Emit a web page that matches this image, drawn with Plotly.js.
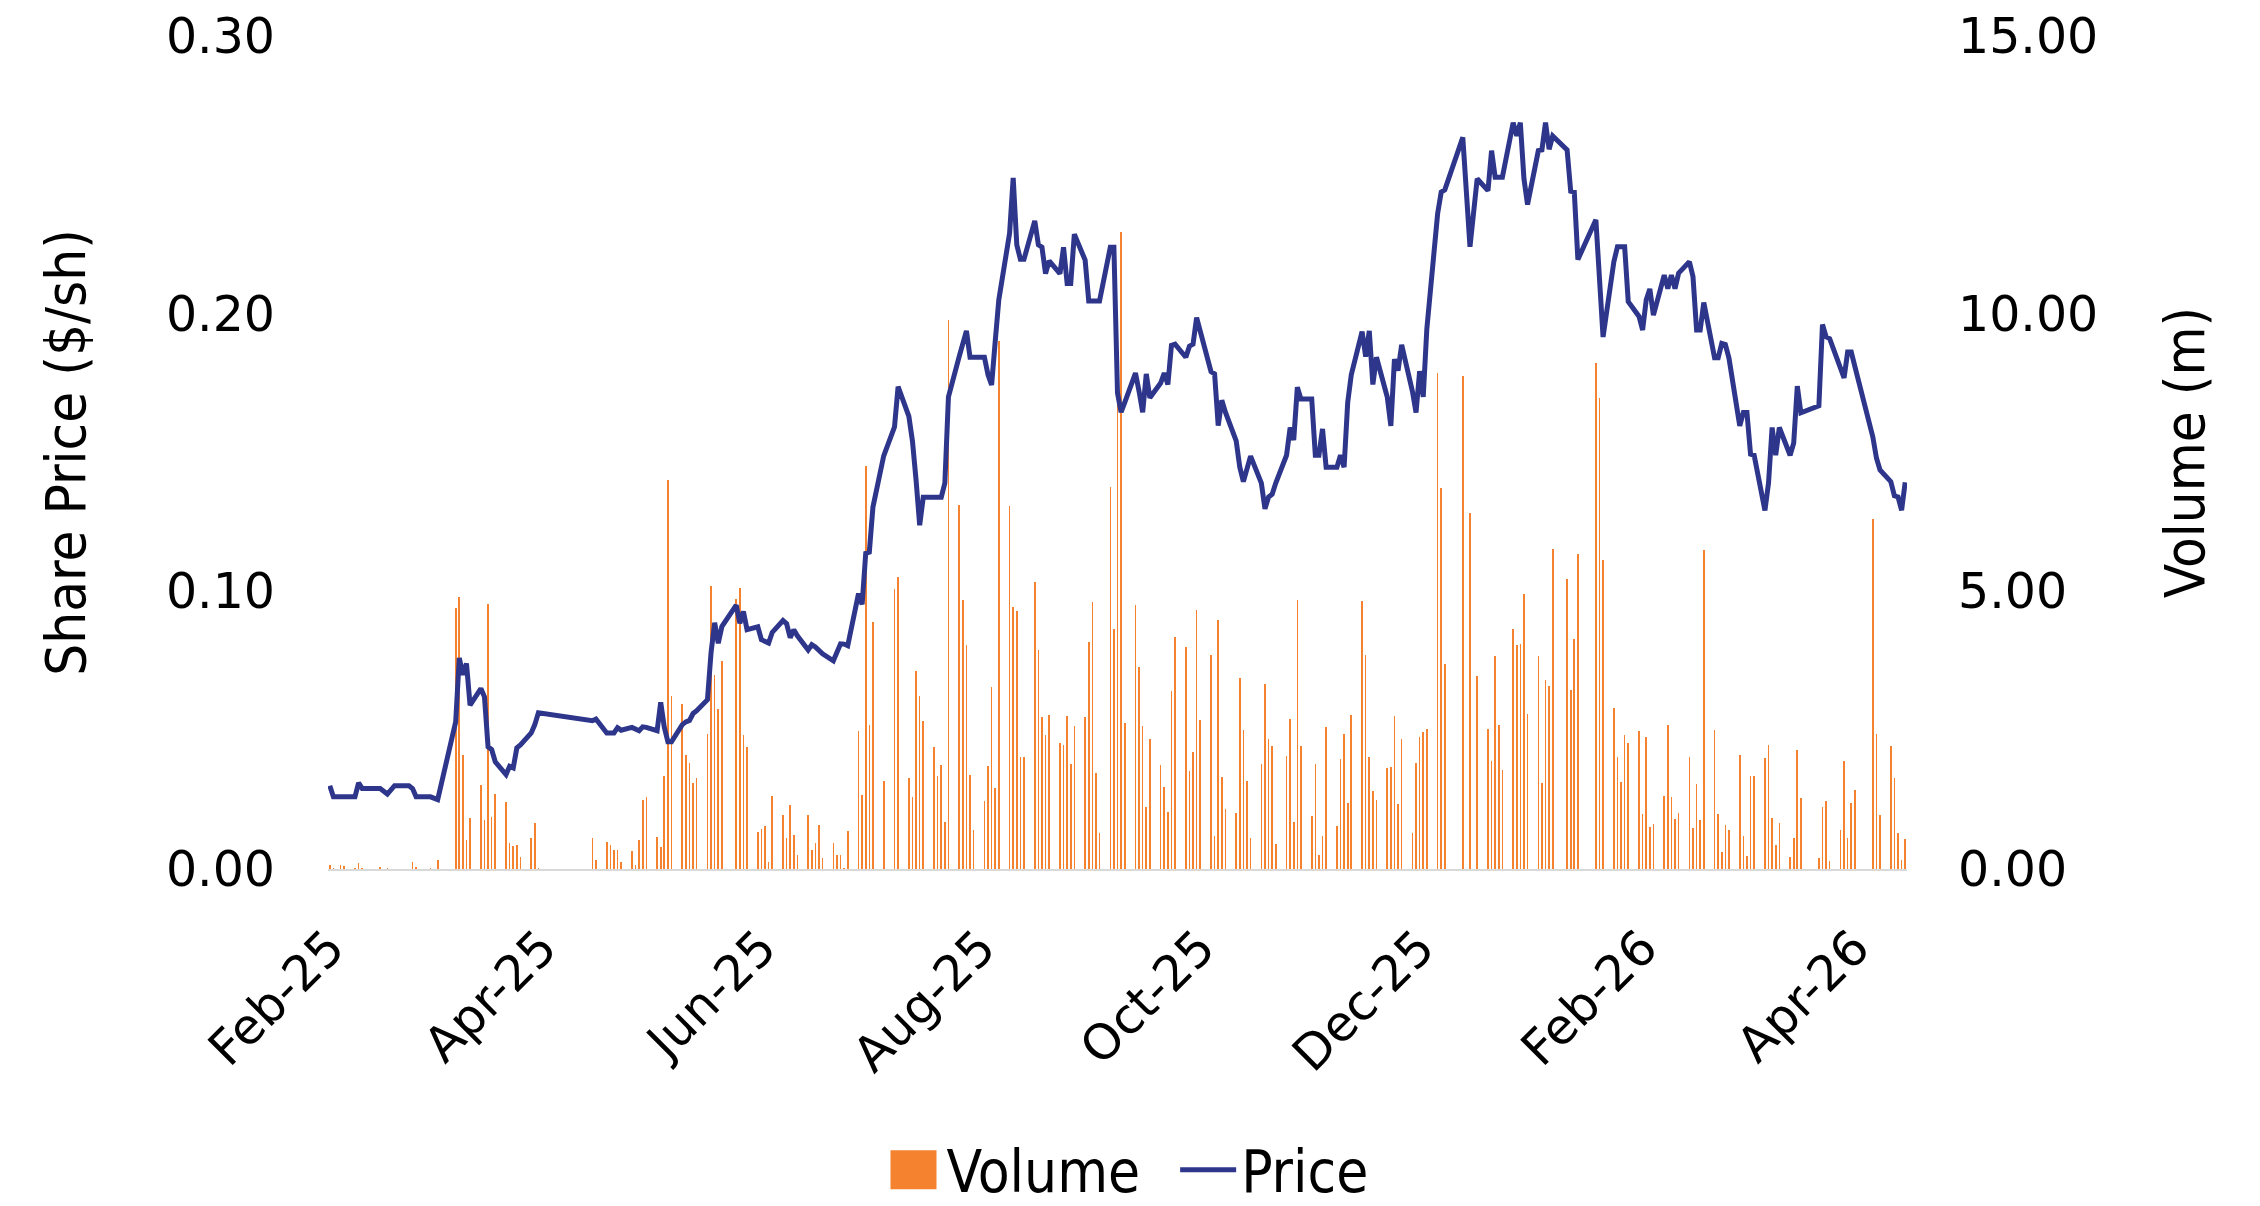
<!DOCTYPE html>
<html>
<head>
<meta charset="utf-8">
<script src="https://cdn.plot.ly/plotly-3.0.1.min.js"></script>
<style>
html,body{margin:0;padding:0;background:#ffffff;}
#chart{width:2260px;height:1206px;}
</style>
</head>
<body>
<div id="chart"></div>
<script>
// Trading dates (one per data point)
const dates = [
'2025-02-03','2025-02-04','2025-02-06','2025-02-07','2025-02-10','2025-02-11','2025-02-12','2025-02-17','2025-02-19','2025-02-21','2025-02-25','2025-02-26','2025-02-27',
'2025-03-03','2025-03-05','2025-03-10','2025-03-11','2025-03-12','2025-03-13','2025-03-14','2025-03-17','2025-03-18','2025-03-19','2025-03-20','2025-03-21','2025-03-24','2025-03-25','2025-03-26','2025-03-27','2025-03-28','2025-03-31',
'2025-04-01','2025-04-02','2025-04-17','2025-04-18','2025-04-21','2025-04-22','2025-04-23','2025-04-24','2025-04-25','2025-04-28','2025-04-29','2025-04-30',
'2025-05-01','2025-05-02','2025-05-05','2025-05-06','2025-05-07','2025-05-08','2025-05-09','2025-05-12','2025-05-13','2025-05-14','2025-05-15','2025-05-16','2025-05-19','2025-05-20','2025-05-21','2025-05-22','2025-05-23','2025-05-27','2025-05-28','2025-05-29','2025-05-30',
'2025-06-02','2025-06-03','2025-06-04','2025-06-05','2025-06-06','2025-06-09','2025-06-10','2025-06-11','2025-06-12','2025-06-13','2025-06-16','2025-06-17','2025-06-18','2025-06-19','2025-06-20','2025-06-23','2025-06-24','2025-06-25','2025-06-26','2025-06-27','2025-06-30',
'2025-07-01','2025-07-02','2025-07-03','2025-07-04','2025-07-07','2025-07-10','2025-07-11','2025-07-14','2025-07-15','2025-07-16','2025-07-17','2025-07-18','2025-07-21','2025-07-22','2025-07-23','2025-07-24','2025-07-25','2025-07-28','2025-07-29','2025-07-30','2025-07-31',
'2025-08-01','2025-08-04','2025-08-05','2025-08-06','2025-08-07','2025-08-08','2025-08-11','2025-08-12','2025-08-13','2025-08-14','2025-08-15','2025-08-18','2025-08-19','2025-08-20','2025-08-21','2025-08-22','2025-08-25','2025-08-26','2025-08-27','2025-08-28','2025-08-29',
'2025-09-01','2025-09-02','2025-09-03','2025-09-04','2025-09-05','2025-09-08','2025-09-09','2025-09-10','2025-09-11','2025-09-12','2025-09-15','2025-09-16','2025-09-17','2025-09-18','2025-09-19','2025-09-22','2025-09-23','2025-09-24','2025-09-25','2025-09-26','2025-09-29','2025-09-30',
'2025-10-01','2025-10-02','2025-10-03','2025-10-06','2025-10-07','2025-10-08','2025-10-09','2025-10-10','2025-10-13','2025-10-14','2025-10-15','2025-10-16','2025-10-17','2025-10-20','2025-10-21','2025-10-22','2025-10-23','2025-10-24','2025-10-27','2025-10-28','2025-10-29','2025-10-30','2025-10-31',
'2025-11-03','2025-11-04','2025-11-05','2025-11-06','2025-11-07','2025-11-10','2025-11-11','2025-11-12','2025-11-13','2025-11-14','2025-11-17','2025-11-18','2025-11-19','2025-11-20','2025-11-21','2025-11-24','2025-11-25','2025-11-26','2025-11-27','2025-11-28',
'2025-12-01','2025-12-02','2025-12-03','2025-12-04','2025-12-05','2025-12-08','2025-12-09','2025-12-10','2025-12-15','2025-12-17','2025-12-19','2025-12-22','2025-12-23','2025-12-24','2025-12-25','2025-12-26','2025-12-29','2025-12-30','2025-12-31',
'2026-01-01','2026-01-02','2026-01-05','2026-01-06','2026-01-07','2026-01-08','2026-01-09','2026-01-13','2026-01-14','2026-01-15','2026-01-16','2026-01-21','2026-01-22','2026-01-23','2026-01-26','2026-01-27','2026-01-28','2026-01-29','2026-01-30',
'2026-02-02','2026-02-03','2026-02-04','2026-02-05','2026-02-06','2026-02-09','2026-02-10','2026-02-11','2026-02-12','2026-02-13','2026-02-16','2026-02-17','2026-02-18','2026-02-19','2026-02-20','2026-02-23','2026-02-24','2026-02-25','2026-02-26','2026-02-27',
'2026-03-02','2026-03-03','2026-03-04','2026-03-05','2026-03-06','2026-03-09','2026-03-10','2026-03-11','2026-03-12','2026-03-13','2026-03-16','2026-03-17','2026-03-18','2026-03-19','2026-03-24','2026-03-25','2026-03-26','2026-03-27','2026-03-30','2026-03-31',
'2026-04-01','2026-04-02','2026-04-03','2026-04-08','2026-04-09','2026-04-10','2026-04-13','2026-04-14','2026-04-15','2026-04-16','2026-04-17'
];

// Share price ($/sh)
const price = [
0.030,0.026,0.026,0.026,0.026,0.031,0.029,0.029,0.027,0.030,0.030,0.029,0.026,
0.026,0.025,0.053,0.076,0.070,0.074,0.059,0.065,0.062,0.044,0.043,0.0386,0.034,0.037,0.0364,0.0436,0.0447,0.049,
0.052,0.0563,0.0534,0.054,0.049,0.049,0.049,0.0509,0.050,0.051,0.0505,0.0498,
0.0512,0.051,0.0498,0.060,0.051,0.0458,0.0458,0.052,0.053,0.0535,0.056,0.057,0.061,0.078,0.0887,0.0813,0.0873,0.095,0.0885,0.0927,0.0862,
0.0872,0.0826,0.082,0.0814,0.0852,0.0895,0.0884,0.0833,0.0862,0.084,0.0789,0.0808,0.080,0.0789,0.0775,0.075,0.078,0.0811,0.081,0.0804,0.0992,
0.0953,0.1137,0.1141,0.1303,0.1488,0.1592,0.1737,0.163,0.154,0.140,0.1238,0.1339,0.1339,0.1339,0.1339,0.139,0.170,0.1846,0.189,0.1938,0.1843,
0.1843,0.1843,0.178,0.1743,0.19,0.205,0.229,0.2489,0.2248,0.2196,0.2196,0.2334,0.2248,0.2239,0.2144,0.219,0.2144,0.2239,0.2109,0.2109,0.2286,
0.2193,0.2046,0.2046,0.2046,0.2046,0.2239,0.2239,0.1714,0.1645,0.168,0.1786,0.172,0.1645,0.1783,0.1697,0.175,0.1786,0.1745,0.1886,0.189,0.1843,0.1883,
0.189,0.1986,0.194,0.1791,0.1783,0.1597,0.1688,0.1645,0.1542,0.1447,0.1395,0.145,0.1487,0.139,0.1297,0.134,0.135,0.139,0.149,0.159,0.1545,0.1735,0.1693,
0.1693,0.149,0.149,0.1585,0.1447,0.1447,0.149,0.1447,0.168,0.178,0.1935,0.1845,0.1938,0.1745,0.1843,0.170,0.1596,0.1836,0.1795,0.1888,
0.172,0.1644,0.1793,0.170,0.1945,0.236,0.2438,0.2446,0.2635,0.2241,0.2486,0.2443,0.2587,0.2491,0.2491,0.2491,0.2688,0.264,0.2688,
0.2486,0.2393,0.2587,0.259,0.2688,0.2592,0.264,0.259,0.2441,0.2438,0.2195,0.2338,0.213,0.1916,0.2187,0.2241,0.2241,0.2241,0.2043,
0.199,0.1941,0.205,0.2089,0.1995,0.2139,0.209,0.2139,0.209,0.2146,0.2187,0.2133,0.1941,0.1941,0.204,0.1841,0.1841,0.1893,0.1889,0.184,
0.1596,0.1644,0.1644,0.1494,0.149,0.1291,0.139,0.159,0.149,0.159,0.149,0.1534,0.1739,0.1643,0.1668,0.1961,0.1917,0.191,0.180,0.1769,
0.1862,0.1862,0.181,0.1556,0.148,0.1437,0.1395,0.1344,0.134,0.1292,0.1393
];

// Daily volume (millions of shares)
const volume = [
0.08,0.01,0.08,0.05,0.01,0.11,0.01,0.03,0.02,0,0,0.13,0.04,
0.01,0.16,4.70,4.90,2.06,0.53,0.91,1.51,0.89,4.78,0.93,1.35,1.20,0.46,0.42,0.44,0.21,0.55,
0.82,0.01,0.55,0.16,0.49,0.43,0.35,0.34,0.13,0.32,0.07,0.52,
1.24,1.29,0.57,0.39,1.67,7.0,3.12,2.98,2.05,1.90,1.54,1.63,2.44,5.10,3.49,2.88,3.75,4.87,5.06,2.41,2.19,
0.66,0.72,0.78,0.12,1.32,0.98,0.56,1.15,0.61,0.26,0.98,0.35,0.46,0.80,0.19,0.47,0.25,0.26,0.01,0.68,2.48,
1.33,7.26,2.60,4.44,1.58,5.05,5.25,1.63,1.29,3.56,3.12,2.66,2.19,1.68,1.87,0.85,9.88,6.56,4.84,4.03,1.70,
0.71,1.22,1.85,3.27,1.45,9.5,6.54,4.72,4.65,2.01,2.02,5.17,3.94,2.73,2.41,2.77,2.26,2.24,2.76,1.89,2.58,
2.73,4.09,4.80,1.72,0.65,6.87,4.32,8.61,11.47,2.63,4.76,3.64,2.58,1.12,2.35,1.87,1.48,1.03,3.20,4.18,4.00,1.77,
2.11,4.67,2.69,3.86,0.59,4.49,1.66,1.08,1.01,3.44,2.50,1.59,0.56,1.89,3.33,2.35,2.21,0.45,2.04,2.71,0.84,4.85,2.21,
0.96,1.89,0.26,0.59,2.56,0.77,1.98,2.44,1.18,2.77,4.82,3.86,2.02,1.41,1.24,1.82,1.83,2.76,1.17,2.35,
0.64,1.91,2.38,2.47,2.52,8.94,6.86,3.70,8.87,6.41,3.48,2.52,1.95,3.83,2.59,1.78,4.32,4.04,4.06,
4.95,2.80,3.84,1.55,3.41,3.30,5.77,5.22,3.23,4.15,5.68,9.12,8.49,5.56,2.90,2.01,1.56,2.41,2.27,
2.49,0.99,2.38,0.75,0.81,1.31,2.59,1.29,0.90,1.01,2.02,0.73,1.53,0.88,5.74,2.50,0.99,0.30,0.79,0.71,
2.05,0.59,0.23,1.68,1.67,2.00,2.23,0.92,0.44,0.83,0.22,0.56,2.14,1.27,0.19,1.12,1.22,0.15,0.71,1.94,
0.55,1.18,1.42,6.31,2.44,0.97,2.21,1.63,0.64,0.17,0.54
];

const tickDates = ['2025-02-03','2025-04-03','2025-06-03','2025-08-03','2025-10-03','2025-12-03','2026-02-03','2026-04-03'];
const tickLabels = ['Feb-25','Apr-25','Jun-25','Aug-25','Oct-25','Dec-25','Feb-26','Apr-26'];
const priceTicks = [0, 0.1, 0.2, 0.3];
const volumeTicks = [0, 5, 10, 15];

const narrow = 'DejaVu Sans Condensed, Liberation Sans Narrow, Arial Narrow, sans-serif';
const tickFont = {family: 'DejaVu Sans, sans-serif', size: 49, color: '#000000'};
const DAY = 86400000;

const traces = [
  {
    type: 'bar', name: 'Volume', x: dates, y: volume, yaxis: 'y',
    width: 0.45 * DAY,
    marker: {color: '#F5822F', line: {width: 0}},
    hoverinfo: 'skip'
  },
  {
    type: 'scatter', mode: 'lines', name: 'Price', x: dates, y: price, yaxis: 'y2',
    line: {color: '#2E368C', width: 5, shape: 'linear'}
  }
];

const layout = {
  width: 2260, height: 1206,
  margin: {l: 328, r: 353, t: 36, b: 337, pad: 0},
  paper_bgcolor: '#ffffff', plot_bgcolor: '#ffffff',
  font: {family: 'DejaVu Sans, sans-serif', size: 49, color: '#000000'},
  showlegend: true,
  bargap: 0,
  legend: {
    orientation: 'h', xref: 'container', yref: 'container',
    x: 0.5, xanchor: 'center', y: 1 - 1170 / 1206, yanchor: 'middle',
    font: {family: narrow, size: 58, color: '#000000'},
    itemwidth: 56, bgcolor: 'rgba(0,0,0,0)', tracegroupgap: 0
  },
  xaxis: {
    type: 'date', range: ['2025-02-02 12:00', '2026-04-17 12:00'],
    tickmode: 'array', tickvals: tickDates, ticktext: tickLabels,
    tickangle: -45, ticks: '', showgrid: false, zeroline: false,
    showline: true, linecolor: '#D9D9D9', linewidth: 2,
    ticklabelstandoff: 28,
    tickfont: tickFont
  },
  yaxis: {
    side: 'right', range: [0, 15], tickmode: 'array', tickvals: volumeTicks,
    tickformat: '.2f', showgrid: false, zeroline: false, showline: false, ticks: '',
    ticklabelstandoff: 50,
    tickfont: tickFont,
    title: {text: 'Volume (m)', font: {family: narrow, size: 56, color: '#000000'}, standoff: 67}
  },
  yaxis2: {
    side: 'left', overlaying: 'y', range: [0, 0.3], tickmode: 'array', tickvals: priceTicks,
    tickformat: '.2f', showgrid: false, zeroline: false, showline: false, ticks: '',
    ticklabelstandoff: 52,
    tickfont: tickFont,
    title: {text: 'Share Price ($/sh)', font: {family: narrow, size: 56, color: '#000000'}, standoff: 62}
  }
};

function shiftX(el, dx) {
  const t = el.getAttribute('transform') || '';
  const m = t.match(/translate\(\s*([-\d.eE]+)[\s,]+([-\d.eE]+)\s*\)/);
  if (m) el.setAttribute('transform', 'translate(' + (parseFloat(m[1]) + dx) + ',' + m[2] + ')');
}

Plotly.newPlot('chart', traces, layout, {staticPlot: true, displayModeBar: false}).then(function (gd) {
  // Let legend entries extend past Plotly's computed legend box
  gd.querySelectorAll('.legend [clip-path]').forEach(function (el) {
    el.removeAttribute('clip-path');
  });
  // Enlarge legend keys and space the entries like the reference legend
  const items = gd.querySelectorAll('.legend .traces');
  if (items[0]) {
    items[0].querySelectorAll('.legendpoints path').forEach(function (p) {
      p.setAttribute('d', 'M23,19.5H-23V-19.5H23Z');
    });
    shiftX(items[0], -18);
  }
  if (items[1]) {
    items[1].querySelectorAll('.legendpoints path').forEach(function (p) {
      p.setAttribute('d', 'M12,0h51');
    });
    shiftX(items[1], 12);
  }
});
</script>
</body>
</html>
